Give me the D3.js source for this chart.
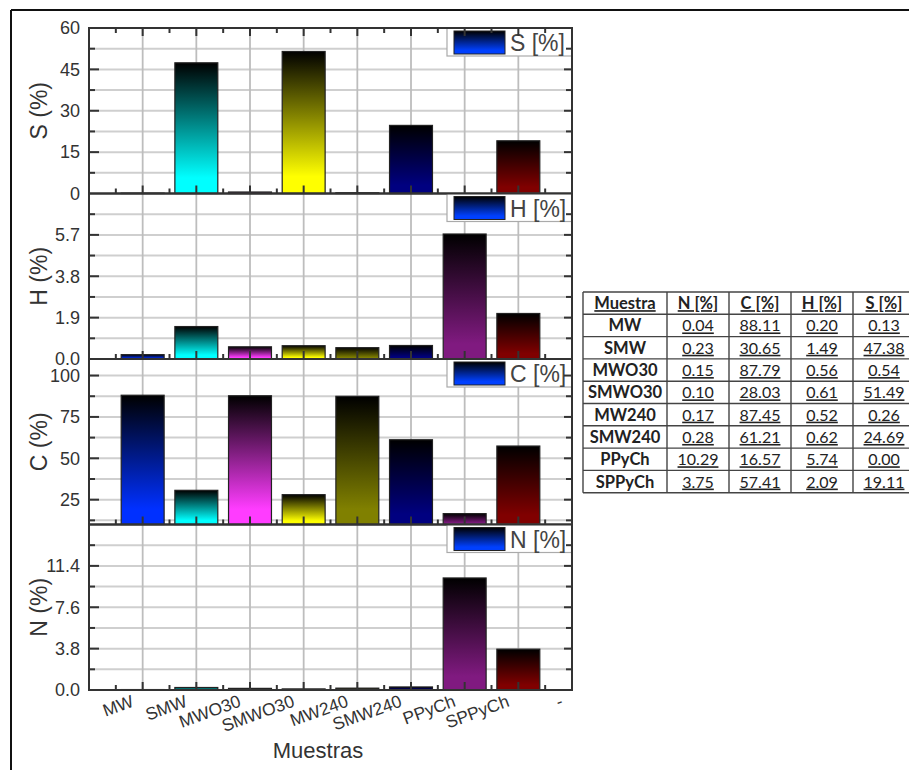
<!DOCTYPE html>
<html>
<head>
<meta charset="utf-8">
<script src="https://cdn.jsdelivr.net/npm/d3@7"></script>
<style>
html,body{margin:0;padding:0;background:#fff;}
svg{display:block;}
</style>
</head>
<body>
<div id="chart"></div>
<script>
// ---------- data ----------
const categories = ["MW","SMW","MWO30","SMWO30","MW240","SMW240","PPyCh","SPPyCh"];
const xTickLabels = ["MW","SMW","MWO30","SMWO30","MW240","SMW240","PPyCh","SPPyCh","-"];
const nValues = [0.04,0.23,0.15,0.10,0.17,0.28,10.29,3.75];
const cValues = [88.11,30.65,87.79,28.03,87.45,61.21,16.57,57.41];
const hValues = [0.20,1.49,0.56,0.61,0.52,0.62,5.74,2.09];
const sValues = [0.13,47.38,0.54,51.49,0.26,24.69,0.00,19.11];
const sTicks = [0,15,30,45,60];
const hTicks = [0.0,1.9,3.8,5.7];
const cTicks = [25,50,75,100];
const nTicks = [0.0,3.8,7.6,11.4];
const tableHeader = ["Muestra","N [%]","C [%]","H [%]","S [%]"];
const barColors = ["#0030ff","#00ffff","#ff3cff","#ffff00","#808000","#000080","#801a80","#800000"];

// ---------- layout ----------
const W = 909, HT = 770;
const L = 89, R = 572, plotTop = 28, plotBottom = 690;
const ph = (plotBottom - plotTop) / 4;

const panels = [
  {key:"S", values:sValues, domain:[0,60], ticks:sTicks, step:7.5, fmt:d3.format("d"), title:"S (%)", legend:"S [%]"},
  {key:"H", values:hValues, domain:[0,7.6], ticks:hTicks, step:0.95, fmt:d3.format(".1f"), title:"H (%)", legend:"H [%]"},
  {key:"C", values:cValues, domain:[10,110], ticks:cTicks, step:12.5, fmt:d3.format("d"), title:"C (%)", legend:"C [%]"},
  {key:"N", values:nValues, domain:[0,15.2], ticks:nTicks, step:1.9, fmt:d3.format(".1f"), title:"N (%)", legend:"N [%]"}
];

const svg = d3.select("#chart").append("svg").attr("width", W).attr("height", HT);
const defs = svg.append("defs");

barColors.forEach((c, i) => {
  const gr = defs.append("linearGradient").attr("id", "grad" + i)
    .attr("x1", 0).attr("y1", 0).attr("x2", 0).attr("y2", 1);
  gr.append("stop").attr("offset", "0%").attr("stop-color", "#000");
  gr.append("stop").attr("offset", "88%").attr("stop-color", c);
  gr.append("stop").attr("offset", "100%").attr("stop-color", c);
});
const gl = defs.append("linearGradient").attr("id", "gradLeg")
  .attr("x1", 0).attr("y1", 0).attr("x2", 0).attr("y2", 1);
gl.append("stop").attr("offset", "0%").attr("stop-color", "#000");
gl.append("stop").attr("offset", "85%").attr("stop-color", "#0040ff");
gl.append("stop").attr("offset", "100%").attr("stop-color", "#0040ff");

// outer frame
svg.append("line").attr("x1", 11).attr("y1", 10).attr("x2", W).attr("y2", 10)
  .attr("stroke", "#111").attr("stroke-width", 2);
svg.append("line").attr("x1", 11).attr("y1", 10).attr("x2", 11).attr("y2", HT)
  .attr("stroke", "#111").attr("stroke-width", 2);

const x = d3.scaleLinear().domain([0, 9]).range([L, R]);
const majorX = d3.range(1, 10);
const minorX = d3.range(0.5, 9, 1);
const barW = (x(1) - x(0)) * 0.8;
const axisColor = "#333";
const textColor = "#333";
const font = "'Liberation Sans', Arial, sans-serif";

const gridLayer = svg.append("g");
const barLayer = svg.append("g");
const axisLayer = svg.append("g");

panels.forEach((p, pi) => {
  const top = plotTop + pi * ph, bottom = top + ph;
  const yS = d3.scaleLinear().domain(p.domain).range([bottom, top]);
  const k0 = Math.ceil(p.domain[0] / p.step + 1e-6);
  const k1 = Math.floor(p.domain[1] / p.step - 1e-6);
  const gridVals = d3.range(k0, k1 + 1).map(k => k * p.step);
  const isMajor = v => p.ticks.some(t => Math.abs(t - v) < 1e-6);

  // horizontal grid (major + minor)
  gridVals.forEach(v => {
    gridLayer.append("line").attr("x1", L).attr("x2", R)
      .attr("y1", yS(v)).attr("y2", yS(v))
      .attr("stroke", "#cfcfcf").attr("stroke-width", 2);
  });
  // vertical grid
  d3.range(1, 9).forEach(v => {
    gridLayer.append("line").attr("x1", x(v)).attr("x2", x(v)).attr("y1", top).attr("y2", bottom)
      .attr("stroke", "#bdbdbd").attr("stroke-width", 1.8);
  });

  // bars
  const base = p.domain[0];
  barLayer.append("g").selectAll("rect").data(p.values).join("rect")
    .attr("x", (d, i) => x(i + 1) - barW / 2)
    .attr("width", barW)
    .attr("y", d => yS(Math.max(d, base)))
    .attr("height", d => Math.max(0, yS(base) - yS(Math.max(d, base))))
    .attr("fill", (d, i) => `url(#grad${i})`)
    .attr("stroke", "#222").attr("stroke-width", 1.2);

  const g = axisLayer.append("g");
  // legend
  g.append("rect").attr("x", 447).attr("y", top).attr("width", R - 447).attr("height", 28)
    .attr("fill", "#fff").attr("stroke", "#aaa").attr("stroke-width", 1.2);
  g.append("rect").attr("x", 454).attr("y", top + 3).attr("width", 51).attr("height", 23)
    .attr("fill", "url(#gradLeg)").attr("stroke", "#222").attr("stroke-width", 1);
  g.append("text").attr("x", 510).attr("y", top + 23).text(p.legend)
    .attr("fill", "#444").style("font-family", font).style("font-size", "23px");

  // tick marks (inward)
  gridVals.forEach(v => {
    g.append("line").attr("x1", L).attr("x2", L + (isMajor(v) ? 10 : 6))
      .attr("y1", yS(v)).attr("y2", yS(v)).attr("stroke", axisColor).attr("stroke-width", 2);
    g.append("line").attr("x1", R).attr("x2", R - (isMajor(v) ? 8 : 6))
      .attr("y1", yS(v)).attr("y2", yS(v)).attr("stroke", axisColor).attr("stroke-width", 2);
  });
  const xEdges = pi === 0 ? [top, bottom] : [bottom];
  xEdges.forEach(edge => {
    const dir = edge === top ? 1 : -1;
    majorX.forEach(v => g.append("line").attr("x1", x(v)).attr("x2", x(v))
      .attr("y1", edge).attr("y2", edge + dir * 8).attr("stroke", axisColor).attr("stroke-width", 2));
    minorX.forEach(v => g.append("line").attr("x1", x(v)).attr("x2", x(v))
      .attr("y1", edge).attr("y2", edge + dir * 5).attr("stroke", axisColor).attr("stroke-width", 2));
  });

  // left axis labels
  const la = g.append("g").attr("transform", `translate(${L},0)`)
    .call(d3.axisLeft(yS).tickValues(p.ticks).tickFormat(p.fmt).tickSize(0).tickPadding(9));
  la.select(".domain").remove();
  la.selectAll(".tick text").attr("fill", textColor).style("font-family", font).style("font-size", "18px");

  // frame
  g.append("rect").attr("x", L).attr("y", top).attr("width", R - L).attr("height", ph)
    .attr("fill", "none").attr("stroke", axisColor).attr("stroke-width", 2);

  // y title
  g.append("text")
    .attr("transform", `translate(47,${(top + bottom) / 2}) rotate(-90)`)
    .attr("text-anchor", "middle").text(p.title)
    .attr("fill", textColor).style("font-family", font).style("font-size", "23px");

  if (pi === panels.length - 1) {
    g.selectAll("text.xl").data(xTickLabels).join("text").attr("class", "xl")
      .attr("transform", (d, i) => `translate(${x(i + 1) - 8},${bottom + 16}) rotate(-20)`)
      .attr("text-anchor", "end").text(d => d)
      .attr("fill", textColor).style("font-family", font).style("font-size", "17.5px");
    g.append("text").attr("x", 318).attr("y", 758).attr("text-anchor", "middle")
      .text("Muestras").attr("fill", textColor)
      .style("font-family", font).style("font-size", "22px");
  }
});

// ---------- table ----------
const tX = 583, tY = 292, rowH = 22.3;
const colW = [84, 62, 62, 62, 62];
const colX = colW.reduce((a, w) => { a.push(a[a.length - 1] + w); return a; }, [tX]);
const rows = [tableHeader].concat(categories.map((c, i) =>
  [c, nValues[i].toFixed(2), cValues[i].toFixed(2), hValues[i].toFixed(2), sValues[i].toFixed(2)]));
const tg = svg.append("g");
tg.append("rect").attr("x", tX).attr("y", tY).attr("width", colX[5] - tX).attr("height", rowH * rows.length)
  .attr("fill", "#fff");
rows.forEach((r, ri) => {
  r.forEach((cell, ci) => {
    const bold = ri === 0 || ci === 0;
    tg.append("text")
      .attr("x", (colX[ci] + colX[ci + 1]) / 2)
      .attr("y", tY + ri * rowH + rowH / 2 + 6)
      .attr("text-anchor", "middle")
      .attr("fill", "#222")
      .style("font-family", "Lato, 'Open Sans', sans-serif")
      .style("font-size", bold ? "16.5px" : "16px")
      .style("font-weight", bold ? "bold" : "normal")
      .style("text-decoration", ci > 0 || ri === 0 ? "underline" : "none")
      .text(cell);
  });
});
d3.range(rows.length + 1).forEach(i => {
  tg.append("line").attr("x1", tX).attr("x2", colX[5]).attr("y1", tY + i * rowH).attr("y2", tY + i * rowH)
    .attr("stroke", "#444").attr("stroke-width", 1.4);
});
colX.forEach(cx => {
  tg.append("line").attr("x1", cx).attr("x2", cx).attr("y1", tY).attr("y2", tY + rowH * rows.length)
    .attr("stroke", "#444").attr("stroke-width", 1.4);
});
</script>
</body>
</html>
